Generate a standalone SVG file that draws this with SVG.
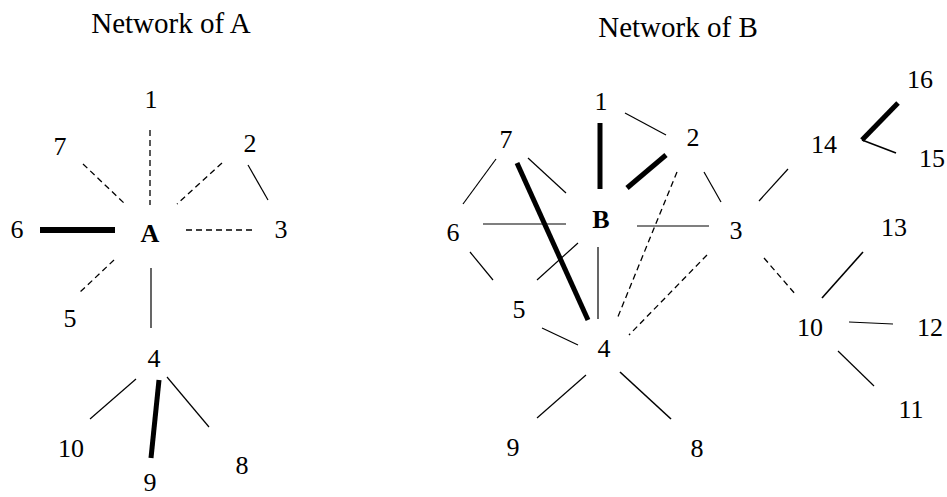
<svg xmlns="http://www.w3.org/2000/svg" width="947" height="497" viewBox="0 0 947 497">
<style>
text{font-family:'Liberation Serif','Times New Roman',serif;font-size:26px;fill:#000;text-anchor:middle}
.title{font-size:29px}
.b{font-weight:bold}
line{stroke:#000;stroke-linecap:butt;fill:none}
.thin{stroke-width:1.2}
.med{stroke-width:1.6}
.thick{stroke-width:5}
.dash{stroke-width:1.3;stroke-dasharray:6 4}
</style>
<rect width="947" height="497" fill="#fff"/>
<text class="title" x="171" y="33">Network of A</text>
<text class="title" x="678" y="37">Network of B</text>
<g id="connectors">
<line class="dash" x1="150" y1="130" x2="150" y2="205"/>
<line class="dash" x1="83" y1="164" x2="125" y2="204"/>
<line class="dash" x1="222" y1="163" x2="177" y2="204"/>
<line class="thin" x1="248" y1="165" x2="268" y2="200"/>
<line class="thick" x1="40" y1="230" x2="115" y2="230" style="stroke-width:6"/>
<line class="dash" x1="186" y1="230" x2="256" y2="230"/>
<line class="dash" x1="114" y1="260" x2="78" y2="294"/>
<line class="thin" x1="151" y1="268" x2="151" y2="328"/>
<line class="thin" x1="136" y1="379" x2="90" y2="419"/>
<line class="thick" x1="159" y1="380" x2="151" y2="458"/>
<line class="thin" x1="167" y1="377" x2="209" y2="427"/>
<line class="thick" x1="600" y1="123" x2="600" y2="189"/>
<line class="thin" x1="625" y1="113" x2="666" y2="135"/>
<line class="thick" x1="627" y1="188" x2="666" y2="155"/>
<line class="thin" x1="496" y1="159" x2="463" y2="204"/>
<line class="thin" x1="528" y1="158" x2="566" y2="193"/>
<line class="thick" x1="517" y1="163" x2="588" y2="320"/>
<line class="thin" x1="483" y1="224" x2="566" y2="224"/>
<line class="thin" x1="637" y1="226" x2="709" y2="226"/>
<line class="thin" x1="704" y1="172" x2="721" y2="202"/>
<line class="dash" x1="677" y1="172" x2="617" y2="319"/>
<line class="dash" x1="707" y1="255" x2="629" y2="335"/>
<line class="thin" x1="470" y1="252" x2="493" y2="280"/>
<line class="thin" x1="578" y1="243" x2="537" y2="280"/>
<line class="thin" x1="598" y1="247" x2="598" y2="319"/>
<line class="thin" x1="542" y1="328" x2="578" y2="345"/>
<line class="thin" x1="586" y1="375" x2="537" y2="418"/>
<line class="med" x1="620" y1="372" x2="671" y2="419"/>
<line class="thin" x1="759" y1="201" x2="788" y2="169"/>
<line class="thick" x1="862" y1="140" x2="898" y2="103"/>
<line class="med" x1="862" y1="140" x2="896" y2="153"/>
<line class="med" x1="863" y1="252" x2="822" y2="298"/>
<line class="dash" x1="764" y1="258" x2="796" y2="295"/>
<line class="thin" x1="849" y1="322" x2="893" y2="324"/>
<line class="thin" x1="838" y1="351" x2="874" y2="386"/>
</g>
<g id="a-A"><text class="b" x="150" y="242">A</text></g>
<g id="a-1"><text x="151" y="108">1</text></g>
<g id="a-2"><text x="250" y="152">2</text></g>
<g id="a-3"><text x="281" y="238">3</text></g>
<g id="a-4"><text x="154" y="367">4</text></g>
<g id="a-5"><text x="70" y="327">5</text></g>
<g id="a-6"><text x="17" y="238">6</text></g>
<g id="a-7"><text x="60" y="155">7</text></g>
<g id="a-8"><text x="242" y="474">8</text></g>
<g id="a-9"><text x="150" y="491">9</text></g>
<g id="a-10"><text x="71" y="457">10</text></g>
<g id="b-B"><text class="b" x="601" y="228">B</text></g>
<g id="b-1"><text x="601" y="110">1</text></g>
<g id="b-2"><text x="693" y="146">2</text></g>
<g id="b-3"><text x="736" y="239">3</text></g>
<g id="b-4"><text x="604" y="357">4</text></g>
<g id="b-5"><text x="519" y="318">5</text></g>
<g id="b-6"><text x="453" y="241">6</text></g>
<g id="b-7"><text x="506" y="148">7</text></g>
<g id="b-8"><text x="697" y="457">8</text></g>
<g id="b-9"><text x="513" y="456">9</text></g>
<g id="b-10"><text x="810" y="336">10</text></g>
<g id="b-11"><text x="911" y="418">11</text></g>
<g id="b-12"><text x="930" y="336">12</text></g>
<g id="b-13"><text x="894" y="236">13</text></g>
<g id="b-14"><text x="824" y="153">14</text></g>
<g id="b-15"><text x="932" y="167">15</text></g>
<g id="b-16"><text x="920" y="88">16</text></g>
</svg>
